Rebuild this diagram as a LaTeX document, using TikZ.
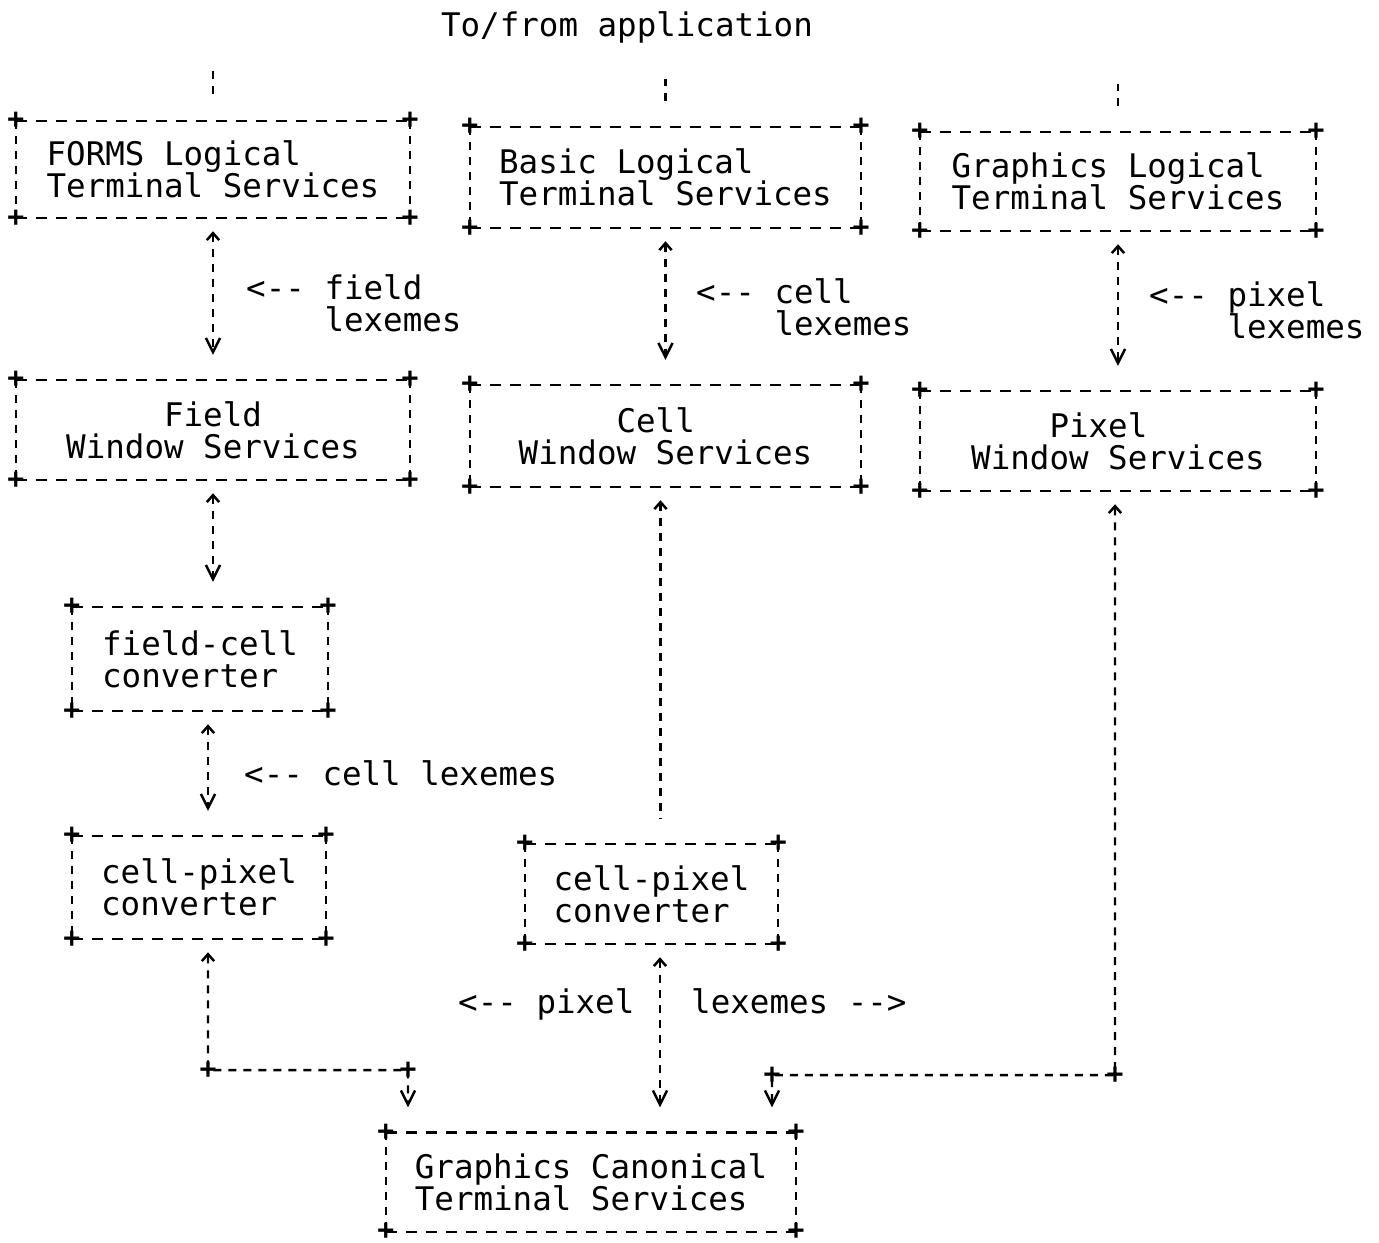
\documentclass[tikz,border=0pt]{standalone}
\usepackage{fontspec}
\usetikzlibrary{arrows.meta}
\newfontfamily\mono{DejaVu Sans Mono}

\begin{document}
\begin{tikzpicture}[
                    x=0.02cm,
                    y=-0.02cm,
                    line width=1.4pt,
                    every node/.style={font=\mono\fontsize{18.5}{18.2}\selectfont,inner sep=0pt},
                    caret/.tip={Straight Barb[length=4pt,width=7pt]},
                    vee/.tip={Straight Barb[length=8pt,width=8pt]},
                    hline/.style={dash pattern=on 0.22cm off 0.18cm},
                    vline/.style={dash pattern=on 0.16cm off 0.14cm},
                    box/.style={rectangle,align=left},
                    crn/.style={font=\mono\bfseries\fontsize{16}{16}\selectfont},
                    link/.style={vline,caret-vee,shorten <=0.26cm,shorten >=0.5cm},
                    uplink/.style={vline,caret-,shorten <=0.26cm,shorten >=0.5cm}
                ]
                \useasboundingbox (0,0) rectangle (1379,1242);

                \node (app) [anchor=base] at (627,36) {To/from application};

                % logical terminal services
                \node[box,minimum width=7.84cm,minimum height=1.9cm]  (forms) at (213,169.5)  {FORMS Logical\\Terminal Services};
                \node[box,minimum width=7.78cm,minimum height=1.98cm] (basic) at (665.5,177.5) {Basic Logical\\Terminal Services};
                \node[box,minimum width=7.88cm,minimum height=1.94cm] (glog)  at (1118,181.5)  {Graphics Logical\\Terminal Services};

                % window services
                \node[box,minimum width=7.84cm,minimum height=1.96cm] (field) at (213,430)    {\phantom{xxxxx}Field\\Window Services};
                \node[box,minimum width=7.78cm,minimum height=2cm]    (cellw) at (665.5,436)  {\phantom{xxxxx}Cell\\Window Services};
                \node[box,minimum width=7.88cm,minimum height=1.96cm] (pixw)  at (1118,441)   {\phantom{xxxx}Pixel\\Window Services};

                % converters
                \node[box,minimum width=5.08cm,minimum height=2.04cm] (fcc)   at (200,659)    {field-cell\\converter};
                \node[box,minimum width=5.04cm,minimum height=2.02cm] (cpl)   at (199,887.5)  {cell-pixel\\converter};
                \node[box,minimum width=5.02cm,minimum height=1.96cm] (cpm)   at (651.5,894)  {cell-pixel\\converter};

                \node[box,minimum width=8.16cm,minimum height=1.94cm] (canon) at (591,1182)   {Graphics Canonical\\Terminal Services};

                \foreach \b in {forms,basic,glog,field,cellw,pixw,fcc,cpl,cpm,canon} {
                    \draw[hline] (\b.north west) -- (\b.north east) (\b.south west) -- (\b.south east);
                    \draw[vline] (\b.north west) -- (\b.south west) (\b.north east) -- (\b.south east);
                    \foreach \c [count=\i] in {north west,north east,south west,south east}
                        \node[crn] (\b-\i) at (\b.\c) {+};
                }

                % to/from application
                \draw[vline,shorten <=0.54cm] (forms.north) -- ++(0,-50);
                \draw[vline,shorten <=0.52cm] (basic.north) -- ++(0,-48);
                \draw[vline,shorten <=0.52cm] (glog.north)  -- ++(0,-48);

                \coordinate (jl)  at (208,1070);
                \coordinate (jl2) at (408,1070);
                \coordinate (jr)  at (1115,1075);
                \coordinate (jr2) at (772,1075);

                \draw[link] (forms.south) -- (field.north);
                \draw[link] (basic.south) -- (cellw.north);
                \draw[link] (glog.south)  -- (pixw.north);
                \draw[link] (field.south) -- (field.south |- fcc.north);
                \draw[link] ([xshift=0.16cm]fcc.south) -- ([xshift=0.16cm]fcc.south |- cpl.north);
                \draw[uplink] ([xshift=-0.1cm]cellw.south) -- ([xshift=-0.1cm]cellw.south |- cpm.north);
                \draw[link] ([xshift=0.17cm]cpm.south) -- ([xshift=0.17cm]cpm.south |- canon.north);
                \draw[link] ([xshift=0.18cm]cpl.south) -- (jl) -- (jl2) -- (jl2 |- canon.north);
                \draw[link] ([xshift=-0.06cm]pixw.south) -- (jr) -- (jr2) -- (jr2 |- canon.north);

                \foreach \j in {jl,jl2,jr,jr2}
                    \node[crn] (\j p) at (\j) {+};

                % lexeme labels
                \node[align=left,anchor=north west] (lfield) at (245,273)  {<-{}- field\\\phantom{<-- }lexemes};
                \node[align=left,anchor=north west] (lcell)  at (695,277)  {<-{}- cell\\\phantom{<-- }lexemes};
                \node[align=left,anchor=north west] (lpix)   at (1148,280) {<-{}- pixel\\\phantom{<-- }lexemes};
                \node[anchor=base west] (lcell2) at (243,785)  {<-{}- cell lexemes};
                \node[anchor=base west] (lpix2)  at (457,1013) {<-{}- pixel};
                \node[anchor=base west] (llex2)  at (690,1013) {lexemes -{}->};
            \end{tikzpicture}
\end{document}
